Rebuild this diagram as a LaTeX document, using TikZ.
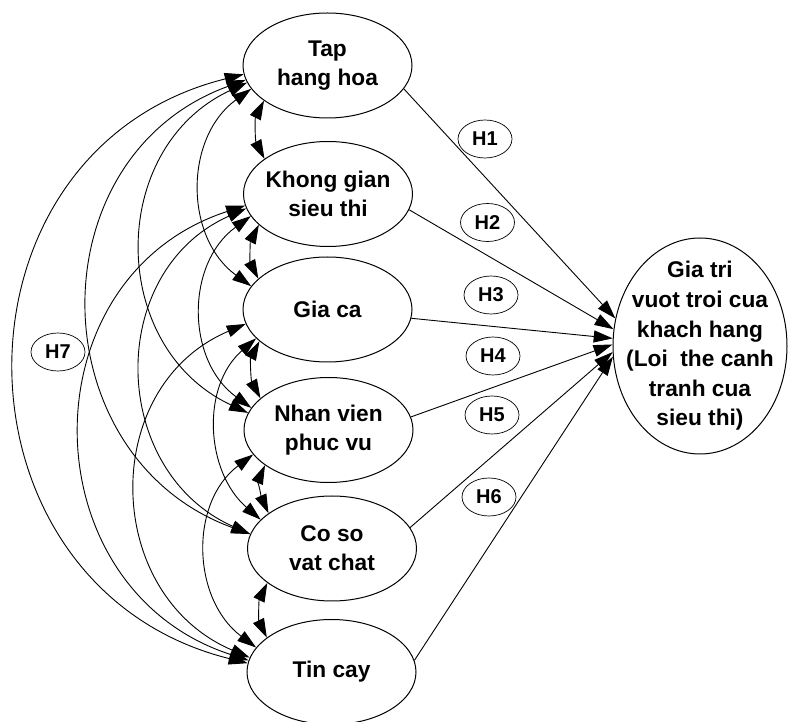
\documentclass[tikz,border=0pt]{standalone}
\usepackage{fontspec}
\setmainfont{Liberation Sans}
\usetikzlibrary{shapes.geometric,arrows.meta}
\begin{document}
\begin{tikzpicture}[x=1pt,y=1pt,
  construct/.style={ellipse, draw, line width=1pt, minimum width=169pt, minimum height=105pt,
    inner xsep=-9pt, inner ysep=-4pt, align=center,
    font=\fontsize{22.7}{29}\selectfont\bfseries},
  outcome/.style={ellipse, draw, line width=1pt, minimum width=174pt, minimum height=216pt,
    inner xsep=-17pt, inner ysep=-12pt, align=center,
    font=\fontsize{22.7}{29.6}\selectfont\bfseries},
  hyp/.style={ellipse, draw, line width=0.7pt, minimum width=54pt, minimum height=38pt,
    inner sep=0pt, font=\fontsize{20}{22}\selectfont\bfseries},
  tip/.tip={Triangle[length=19pt,width=12pt]},
  effect/.style={line width=0.9pt, -tip},
  cov/.style={line width=0.9pt, tip-tip},
]
\useasboundingbox (0,0) rectangle (788,721);

% latent constructs
\node[construct] (tap) at (327.5,655.5) {Tap\\hang hoa};
\node[construct] (kg)  at (328,527)     {Khong gian\\sieu thi};
\node[construct] (gc)  at (327.5,411.5) {Gia ca};
\node[construct] (nv)  at (328.5,291)   {Nhan vien\\phuc vu};
\node[construct] (cs)  at (332,172.5)   {Co so\\vat chat};
\node[construct] (tc)  at (331.5,49)    {Tin cay};
\node[outcome]   (gt)  at (700,375)
  {Gia tri\\vuot troi cua\\khach hang\\(Loi\ \ the canh\\tranh cua\\sieu thi)};

% hypothesis tags
\node[hyp] (h1) at (485,582)   {H1};
\node[hyp] (h2) at (487.5,498.5) {H2};
\node[hyp] (h3) at (491,426)   {H3};
\node[hyp] (h4) at (493,365)   {H4};
\node[hyp] (h5) at (492,306)   {H5};
\node[hyp] (h6) at (489,224)   {H6};
\node[hyp] (h7) at (58,369)    {H7};

% direct effects
\draw[effect] (tap.-17) -- (gt.162);
\draw[effect] (kg.-11)  -- (gt.169);
\draw[effect] (gc.-6)   -- (gt.175);
\draw[effect] (nv.9)    -- (gt.179);
\draw[effect] (cs.15)   -- (gt.184);
\draw[effect] (tc.8)    -- (gt.187);

% covariances between constructs
\draw[cov] (tap.186) to[out=194,in=166,looseness=1.367] (tc.174);
\draw[cov] (tap.190) to[out=200,in=160,looseness=1.266] (cs.170);
\draw[cov] (kg.188)  to[out=198,in=162,looseness=1.301] (tc.172);
\draw[cov] (tap.192) to[out=205,in=155,looseness=1.197] (nv.168);
\draw[cov] (kg.190)  to[out=204,in=156,looseness=1.213] (cs.170);
\draw[cov] (gc.190)  to[out=203,in=157,looseness=1.226] (tc.170);
\draw[cov] (tap.197) to[out=216,in=144,looseness=1.077] (gc.163);
\draw[cov] (kg.196)  to[out=216,in=144,looseness=1.075] (nv.164);
\draw[cov] (gc.202)  to[out=221,in=139,looseness=1.032] (cs.158);
\draw[cov] (nv.198)  to[out=217,in=143,looseness=1.063] (tc.162);
\draw[cov] (tap.209) to[out=243,in=117,looseness=0.901] (kg.151);
\draw[cov] (kg.204)  to[out=243,in=117,looseness=0.901] (gc.156);
\draw[cov] (gc.205)  to[out=242,in=118,looseness=0.904] (nv.155);
\draw[cov] (nv.209)  to[out=246,in=114,looseness=0.891] (cs.151);
\draw[cov] (cs.208)  to[out=244,in=116,looseness=0.900] (tc.152);
\end{tikzpicture}
\end{document}
